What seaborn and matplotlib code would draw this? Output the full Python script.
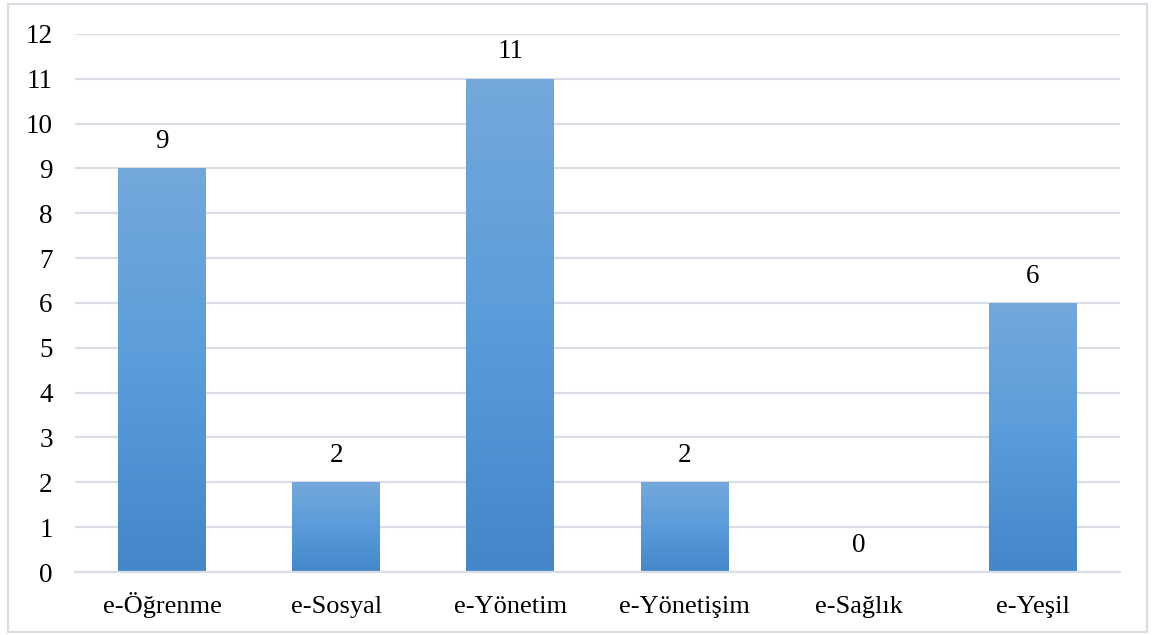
import numpy as np
import pandas as pd
import matplotlib
matplotlib.use("Agg")
import matplotlib.pyplot as plt
import seaborn as sns
from matplotlib.colors import LinearSegmentedColormap
from matplotlib.patches import Rectangle

categories = ["e-Öğrenme", "e-Sosyal", "e-Yönetim", "e-Yönetişim", "e-Sağlık", "e-Yeşil"]
counts = [9, 2, 11, 2, 0, 6]
y_ticks = list(range(0, 13))

df = pd.DataFrame({"alan": categories, "sayi": counts})

sns.set_theme(style="white")
plt.rcParams["font.family"] = ["Liberation Serif", "DejaVu Serif"]

fig = plt.figure(figsize=(11.54, 6.35), dpi=100)
ax = fig.add_axes([0.065, 0.0992, 0.9055, 0.8473])

sns.barplot(data=df, x="alan", y="sayi", color="#5B9BD5", width=0.505,
            saturation=1, ax=ax, zorder=2)

# vertical gradient fill for each bar
grad_cmap = LinearSegmentedColormap.from_list(
    "bar_grad", ["#4387CA", "#5A9CDA", "#74A8DC"])
for patch in ax.patches:
    x0, y0 = patch.get_x(), patch.get_y()
    w, h = patch.get_width(), patch.get_height()
    if h <= 0:
        continue
    patch.set_facecolor("none")
    patch.set_edgecolor("none")
    im = ax.imshow(np.linspace(0, 1, 256).reshape(-1, 1), cmap=grad_cmap,
                   origin="lower", aspect="auto",
                   extent=[x0, x0 + w, y0, y0 + h], zorder=2)
    im.set_clip_path(patch)

ax.set_xlim(-0.5, len(categories) - 0.5)
ax.set_ylim(0, 12)
ax.set_yticks(y_ticks)
ax.set_yticklabels([str(t) for t in y_ticks])
ax.set_xlabel("")
ax.set_ylabel("")

grid_color = "#D9DEE5"
ax.yaxis.grid(True, color=grid_color, linewidth=1.6, zorder=0)
ax.set_axisbelow(True)
for side in ["top", "right", "left"]:
    ax.spines[side].set_visible(False)
ax.spines["bottom"].set_color(grid_color)
ax.spines["bottom"].set_linewidth(1.6)

ax.tick_params(axis="y", length=0, labelsize=19.5, pad=16, colors="black")
ax.tick_params(axis="x", length=0, labelsize=19, pad=29.5, colors="black")

# category separator ticks below the axis
ax.set_xticks(np.arange(-0.5, len(categories), 1.0), minor=True)
ax.tick_params(axis="x", which="minor", length=7, width=1.6, color=grid_color,
               direction="out")

# value labels
for i, v in enumerate(counts):
    ax.text(i, v + 0.32, str(v), ha="center", va="bottom", fontsize=19.5,
            color="black")

ax.set_xticks(range(len(categories)))
ax.set_xticklabels(categories)
for lbl in ax.get_xticklabels():
    lbl.set_va("baseline")

# outer frame
fig.patches.append(Rectangle((0.007, 0.005), 0.987, 0.988,
                             transform=fig.transFigure, fill=False,
                             edgecolor="#D9DEE5", linewidth=1.6))

fig.savefig("out.png", dpi=100, facecolor="white")
